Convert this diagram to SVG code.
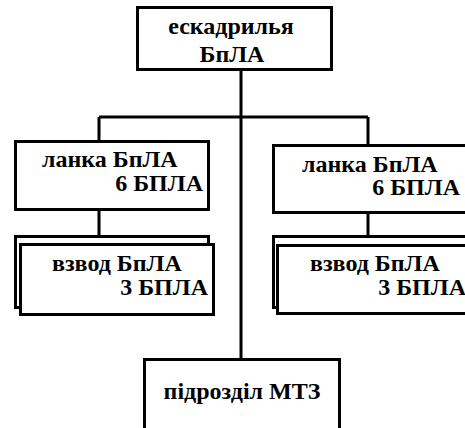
<svg xmlns="http://www.w3.org/2000/svg" width="465" height="428" viewBox="0 0 465 428">
<style>
.b{fill:#fff;stroke:#000;stroke-width:3}
.l{fill:none;stroke:#000;stroke-width:3}
text{font-family:"Liberation Serif","Times New Roman",serif;font-weight:bold;font-size:24px;fill:#000}
</style>
<rect width="465" height="428" fill="#fff"/>
<g id="connectors">
<path class="l" d="M241 70 V359 M99 117 H368 M99 117 V141 M368 117 V145 M99 209 V236 M368 213 V236"/>
</g>
<g id="n-esk">
<rect class="b" x="137.5" y="7.5" width="194" height="62"/>
<text x="231" y="34" text-anchor="middle">ескадрилья</text>
<text x="232" y="62" text-anchor="middle">БпЛА</text>
</g>
<g id="n-lanka1">
<rect class="b" x="15.5" y="141.5" width="193" height="68"/>
<text x="42" y="167">ланка БпЛА</text>
<text x="203" y="191" text-anchor="end">6 БПЛА</text>
</g>
<g id="n-lanka2">
<rect class="b" x="273.5" y="145.5" width="195" height="67"/>
<text x="302" y="172">ланка БпЛА</text>
<text x="460" y="195" text-anchor="end">6 БПЛА</text>
</g>
<g id="n-vzvod1">
<rect class="b" x="15.5" y="236.5" width="193" height="71"/>
<rect class="b" x="20.5" y="244.5" width="193" height="70"/>
<text x="52" y="271">взвод БпЛА</text>
<text x="208" y="295" text-anchor="end">3 БПЛА</text>
</g>
<g id="n-vzvod2">
<rect class="b" x="273.5" y="236.5" width="195" height="71"/>
<rect class="b" x="277.5" y="245.5" width="195" height="68"/>
<text x="310" y="271">взвод БпЛА</text>
<text x="466" y="295" text-anchor="end">3 БПЛА</text>
</g>
<g id="n-mtz">
<rect class="b" x="144.5" y="359.5" width="195" height="75"/>
<text x="242" y="399" text-anchor="middle">підрозділ МТЗ</text>
</g>
</svg>
